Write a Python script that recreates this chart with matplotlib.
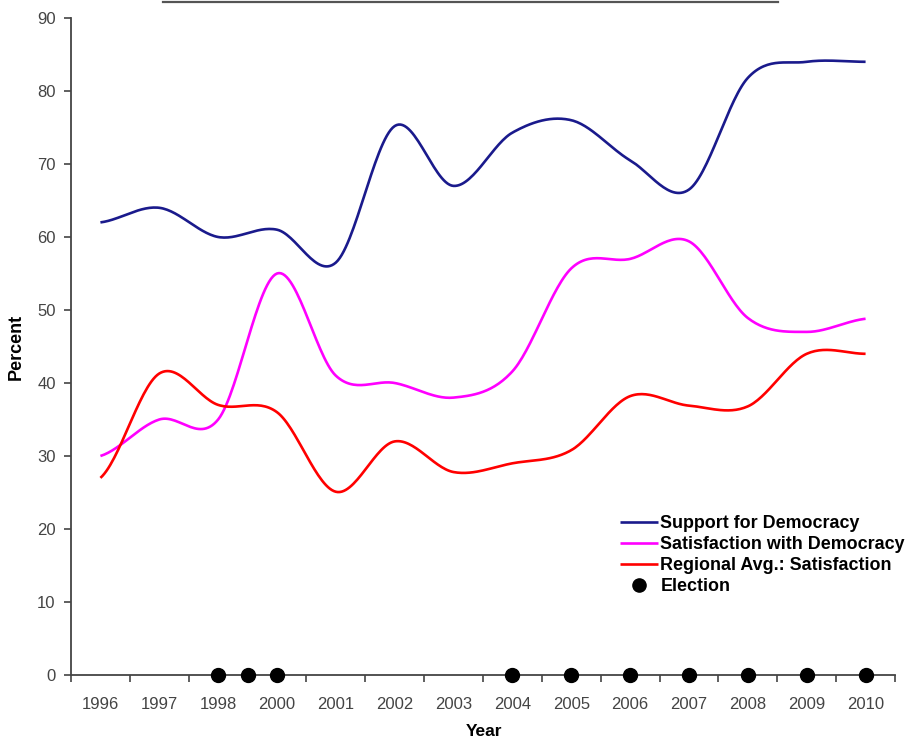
import numpy as np
import matplotlib
matplotlib.use("Agg")
import matplotlib.pyplot as plt
from matplotlib.lines import Line2D

years = ["1996", "1997", "1998", "2000", "2001", "2002", "2003", "2004",
         "2005", "2006", "2007", "2008", "2009", "2010"]
support = [62, 64, 60, 61, 56.5, 75.2, 67, 74.3, 76, 70.5, 66.5, 81.8, 84, 84]
satisfaction = [30, 35, 35, 55, 41, 40, 38, 41.6, 55.7, 57, 59.4, 48.9, 47, 48.8]
regional = [27, 41.3, 37, 36, 25.1, 32, 27.8, 29, 30.8, 38.2, 36.9, 36.8, 44, 44]
election_pos = [2, 2.5, 3, 7, 8, 9, 10, 11, 12, 13]   # category positions (2.5 = 1999)
election_val = [0] * len(election_pos)


def smooth(vals, n=30):
    p = np.asarray(vals, dtype=float)
    x = np.arange(len(p), dtype=float)
    pp = np.concatenate([[p[0]], p, [p[-1]]])
    xs, ys = [], []
    for i in range(len(p) - 1):
        p0, p1, p2, p3 = pp[i], pp[i + 1], pp[i + 2], pp[i + 3]
        m1 = (p2 - p0) / 2.0
        m2 = (p3 - p1) / 2.0
        t = np.linspace(0, 1, n, endpoint=(i == len(p) - 2))
        h00 = 2 * t**3 - 3 * t**2 + 1
        h10 = t**3 - 2 * t**2 + t
        h01 = -2 * t**3 + 3 * t**2
        h11 = t**3 - t**2
        xs.append(x[i] + t)
        ys.append(h00 * p1 + h10 * m1 + h01 * p2 + h11 * m2)
    return np.concatenate(xs), np.concatenate(ys)


plt.rcParams['font.family'] = ['Liberation Sans', 'DejaVu Sans']
W, H = 911, 740
fig = plt.figure(figsize=(W / 100, H / 100), dpi=100)
ax = fig.add_axes([71 / W, 1 - 675 / H, (895 - 71) / W, (675 - 18) / H])

lw = 1.9
for vals, col, lab in [(support, "#1a1a8c", "Support for Democracy"),
                       (satisfaction, "#ff00ff", "Satisfaction with Democracy"),
                       (regional, "#ff0000", "Regional Avg.: Satisfaction")]:
    xs, ys = smooth(vals)
    ax.plot(xs, ys, color=col, lw=lw, label=lab, solid_capstyle='butt')

ax.plot(election_pos, election_val, 'o', color='black', markersize=10,
        clip_on=False, zorder=5, label="Election", linestyle='none')

ax.set_xlim(-0.5, len(years) - 0.5)
ax.set_ylim(0, 90)
ax.set_yticks(np.arange(0, 91, 10))
ax.set_xticks(np.arange(-0.5, len(years), 1.0))
ax.set_xticklabels([])
ax.set_xticks(np.arange(len(years)), minor=True)
ax.set_xticklabels(years, minor=True)
ax.tick_params(axis='x', which='minor', length=0, pad=16, labelsize=12, labelcolor='#444444')
ax.tick_params(axis='x', which='major', length=5, width=1.2, color='#444444', direction='out')
ax.tick_params(axis='y', length=5, width=1.2, color='#444444', labelsize=12,
               labelcolor='#444444', pad=6)

for s in ['top', 'right']:
    ax.spines[s].set_visible(False)
for s in ['left', 'bottom']:
    ax.spines[s].set_color('#444444')
    ax.spines[s].set_linewidth(1.3)

fig.text(16 / W, 1 - 347 / H, "Percent", rotation=90, fontweight='bold',
         fontsize=13, ha='center', va='center')
fig.text(484 / W, 1 - 732 / H, "Year", fontweight='bold',
         fontsize=12.5, ha='center', va='center')

leg = ax.legend(loc='upper left', bbox_to_anchor=(620 / W, 1 - 515 / H),
                bbox_transform=fig.transFigure, frameon=False,
                prop={'weight': 'bold', 'size': 12.9}, handlelength=2.1,
                handletextpad=0.15, labelspacing=0.22, borderpad=0,
                borderaxespad=0, markerscale=0.95)

fig.add_artist(Line2D([163 / W, 778 / W], [1 - 1.5 / H, 1 - 1.5 / H],
                      transform=fig.transFigure, color='#555555', lw=1.6))

fig.savefig("out.png", dpi=100)
